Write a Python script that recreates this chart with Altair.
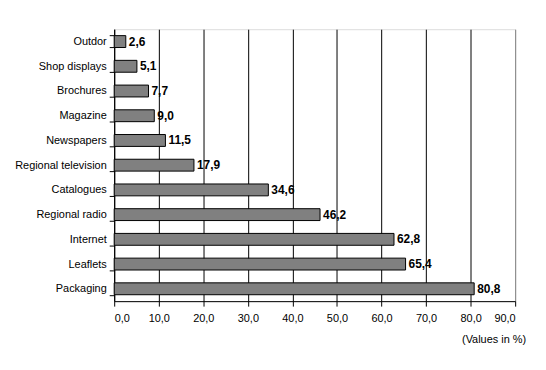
import altair as alt
import pandas as pd

categories = ["Outdor", "Shop displays", "Brochures", "Magazine", "Newspapers",
              "Regional television", "Catalogues", "Regional radio", "Internet",
              "Leaflets", "Packaging"]
values = [2.6, 5.1, 7.7, 9.0, 11.5, 17.9, 34.6, 46.2, 62.8, 65.4, 80.8]
labels = [f"{v:.1f}".replace(".", ",") for v in values]
note_text = ["(Values in %)"]

df = pd.DataFrame({"cat": categories, "val": values, "lab": labels})
note_df = pd.DataFrame({"t": note_text})

FONT = "Liberation Sans"

y = alt.Y("cat:N", sort=categories, title=None,
          scale=alt.Scale(paddingInner=0.52, paddingOuter=0.26),
          axis=alt.Axis(domainColor="black", tickColor="black", tickSize=5,
                        tickBand="extent", labelPadding=3, labelFont=FONT,
                        labelFontSize=11, labelColor="black"))
x = alt.X("val:Q", title=None,
          scale=alt.Scale(domain=[0, 90], nice=False),
          axis=alt.Axis(values=list(range(0, 91, 10)), domainColor="black",
                        tickColor="black", tickSize=5, labelPadding=6,
                        labelFont=FONT, labelFontSize=11, labelColor="black",
                        labelExpr="replace(format(datum.value, '.1f'), '.', ',')",
                        grid=True,
                        gridColor=alt.condition("datum.value == 90",
                                                alt.value("#808080"),
                                                alt.value("black"))))

bars = alt.Chart(df).mark_bar(color="#808080", stroke="black",
                              strokeWidth=1).encode(x=x, y=y)
text = alt.Chart(df).mark_text(align="left", dx=3, font=FONT, fontSize=12,
                               fontWeight="bold", color="black").encode(
    x="val:Q", y=alt.Y("cat:N", sort=categories), text="lab:N")
note = alt.Chart(note_df).mark_text(align="right", font=FONT, fontSize=11,
                                    fontWeight="normal", color="black").encode(
    x=alt.value(415), y=alt.value(313), text="t:N")

chart = (bars + text + note).properties(
    width=404, height=274,
    autosize=alt.AutoSizeParams(type="none"),
    padding={"left": 107, "top": 20, "right": 23, "bottom": 68},
).configure_view(stroke="#808080", strokeWidth=1).configure(background="white")

chart.save("out.html", embed_options={"renderer": "svg", "actions": False})
